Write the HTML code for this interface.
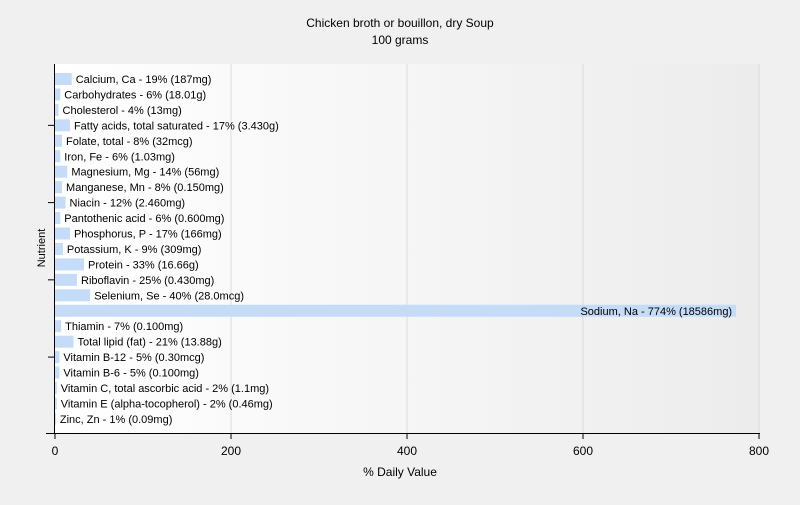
<!DOCTYPE html>
<html><head><meta charset="utf-8"><style>
body{margin:0;width:800px;height:500px;background:#f0f0f0;font-family:"Liberation Sans",Arial,sans-serif;overflow:hidden}
svg text{font-family:"Liberation Sans",Arial,sans-serif}
</style></head><body>
<svg id="c" width="800" height="500">
<defs><linearGradient id="bg" x1="0" x2="1"><stop offset="0" stop-color="#ffffff"/><stop offset="1" stop-color="#ececec"/></linearGradient></defs>
<rect x="0" y="0" width="800" height="500" fill="#f0f0f0"/>
<rect x="55" y="64" width="705" height="369" fill="url(#bg)"/>
<text x="400" y="27" text-anchor="middle" font-size="12">Chicken broth or bouillon, dry Soup</text>
<text x="400" y="44" text-anchor="middle" font-size="12">100 grams</text>
<text x="400" y="476" text-anchor="middle" font-size="12">% Daily Value</text>
<text transform="translate(45,248) rotate(-90)" text-anchor="middle" font-size="11">Nutrient</text>
<g id="g"></g>
</svg>
<script>
const labels=["Calcium, Ca - 19% (187mg)","Carbohydrates - 6% (18.01g)","Cholesterol - 4% (13mg)","Fatty acids, total saturated - 17% (3.430g)","Folate, total - 8% (32mcg)","Iron, Fe - 6% (1.03mg)","Magnesium, Mg - 14% (56mg)","Manganese, Mn - 8% (0.150mg)","Niacin - 12% (2.460mg)","Pantothenic acid - 6% (0.600mg)","Phosphorus, P - 17% (166mg)","Potassium, K - 9% (309mg)","Protein - 33% (16.66g)","Riboflavin - 25% (0.430mg)","Selenium, Se - 40% (28.0mcg)","Sodium, Na - 774% (18586mg)","Thiamin - 7% (0.100mg)","Total lipid (fat) - 21% (13.88g)","Vitamin B-12 - 5% (0.30mcg)","Vitamin B-6 - 5% (0.100mg)","Vitamin C, total ascorbic acid - 2% (1.1mg)","Vitamin E (alpha-tocopherol) - 2% (0.46mg)","Zinc, Zn - 1% (0.09mg)"];
const values=[19,6,4,17,8,6,14,8,12,6,17,9,33,25,40,774,7,21,5,5,2,2,1];
const xTicks=[0,200,400,600,800];
const NS="http://www.w3.org/2000/svg";
const g=document.getElementById('g');
const x=v=>55+v*704/800;
const y=i=>79+i*15.45;
function mk(t,a){const e=document.createElementNS(NS,t);for(const k in a)e.setAttribute(k,a[k]);g.appendChild(e);return e;}
xTicks.forEach(t=>{
 if(t>0){const l=mk('line',{x1:x(t),x2:x(t),y1:64,y2:433,stroke:'#dcdcdc'});
 
 }
 const tk=mk('line',{x1:x(t),x2:x(t),y1:433,y2:439,stroke:'#000'});
 
 
 const tx=mk('text',{x:x(t),y:455,'text-anchor':'middle','font-size':12});tx.textContent=t;
 
 
});
values.forEach((v,i)=>{
 const b=mk('rect',{x:x(0),y:y(i)-6,width:Math.max(0,x(v)-x(0)),height:12,fill:'#c4dcf8'});
 
 
 const inside=x(v)>500;
 const t=mk('text',{x:inside?x(v)-4:x(v)+4,y:y(i)+4,'font-size':11,'text-anchor':inside?'end':'start'});
 t.textContent=labels[i];
 
 
});
[3,8,13,18].forEach(i=>{const l=mk('line',{x1:48,x2:55,y1:y(i),y2:y(i),stroke:'#000'});
 
 });
const ya=mk('line',{x1:54.5,x2:54.5,y1:64,y2:433,stroke:'#000'});


const xa=mk('line',{x1:46,x2:760,y1:433.5,y2:433.5,stroke:'#000'});


</script>
</body></html>
